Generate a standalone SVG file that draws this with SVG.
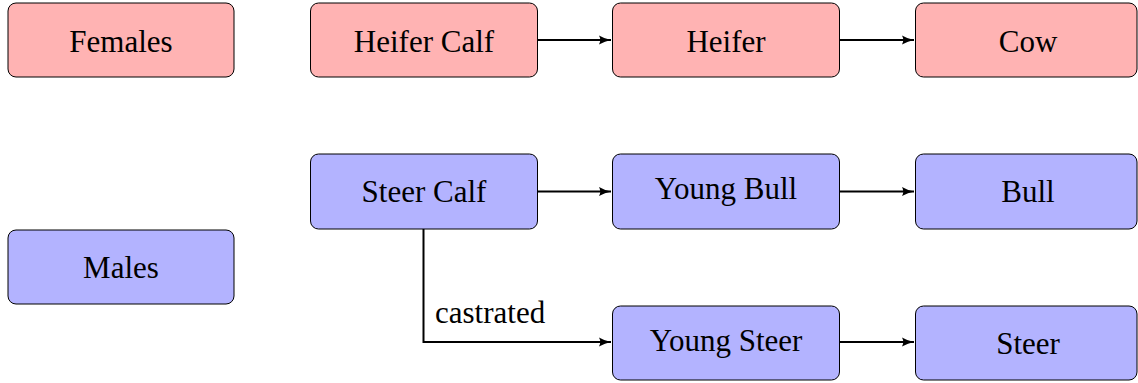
<svg xmlns="http://www.w3.org/2000/svg" width="1138" height="383" viewBox="0 0 1138 383" font-family="Liberation Serif, DejaVu Serif, serif" font-size="31">
<style>
.f{fill:#FFB3B3;stroke:#000;stroke-width:1}
.m{fill:#B3B3FF;stroke:#000;stroke-width:1}
.t{fill:#000;text-anchor:middle}
.c{fill:none;stroke:#000;stroke-width:2}
</style>
<defs>
<marker id="ah" markerWidth="14" markerHeight="12" refX="12" refY="6" orient="auto" markerUnits="userSpaceOnUse">
<path d="M0,1.5 Q6,5 12,6 Q6,7 0,10.5 Q2.5,6 0,1.5 Z" fill="#000"/>
</marker>
</defs>
<rect width="1138" height="383" fill="#fff"/>
<g id="females"><rect class="f" x="8" y="3" width="226" height="74" rx="8"/><text class="t" x="121" y="52">Females</text></g>
<g id="heifer-calf"><rect class="f" x="310.5" y="3" width="227" height="74" rx="8"/><text class="t" x="424" y="52">Heifer Calf</text></g>
<g id="heifer"><rect class="f" x="612.5" y="3" width="227" height="74" rx="8"/><text class="t" x="726" y="52">Heifer</text></g>
<g id="cow"><rect class="f" x="915.5" y="3" width="221.5" height="74" rx="8"/><text class="t" x="1028" y="52">Cow</text></g>
<g id="males"><rect class="m" x="8" y="230" width="226" height="74" rx="8"/><text class="t" x="121" y="278">Males</text></g>
<g id="steer-calf"><rect class="m" x="310.5" y="154" width="227" height="75" rx="8"/><text class="t" x="424" y="202">Steer Calf</text></g>
<g id="young-bull"><rect class="m" x="612.5" y="154" width="227" height="75" rx="8"/><text class="t" x="726" y="199">Young Bull</text></g>
<g id="bull"><rect class="m" x="915.5" y="154" width="221.5" height="75" rx="8"/><text class="t" x="1028" y="202">Bull</text></g>
<g id="young-steer"><rect class="m" x="612.5" y="306" width="227" height="74" rx="8"/><text class="t" x="726" y="351">Young Steer</text></g>
<g id="steer"><rect class="m" x="915.5" y="306" width="221.5" height="74" rx="8"/><text class="t" x="1028" y="354">Steer</text></g>
<g id="connectors">
<path class="c" d="M537.5,40 H611" marker-end="url(#ah)"/>
<path class="c" d="M839.5,40 H914" marker-end="url(#ah)"/>
<path class="c" d="M537.5,191.5 H611" marker-end="url(#ah)"/>
<path class="c" d="M839.5,191.5 H914" marker-end="url(#ah)"/>
<path class="c" d="M839.5,342 H914" marker-end="url(#ah)"/>
<path class="c" d="M423.5,229 V342 H611" marker-end="url(#ah)"/>
<text x="435" y="323" fill="#000">castrated</text>
</g>
</svg>
